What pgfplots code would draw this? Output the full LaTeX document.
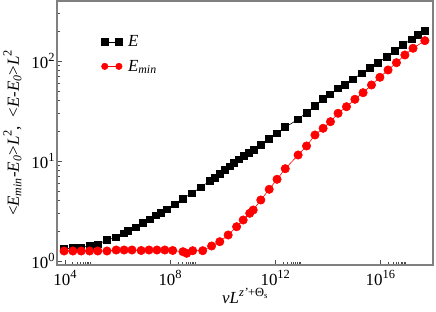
\documentclass[border=0pt]{standalone}
\usepackage{fontspec}
\setmainfont{Liberation Serif}
\usepackage{pgfplots}
\pgfplotsset{compat=1.18}
\newcommand{\ex}[1]{\raisebox{0.42em}{\fontsize{12.5}{12.5}\selectfont #1}}
\begin{document}
\begin{tikzpicture}
\begin{axis}[
  name=ax,
  scale only axis, width=376bp, height=264bp,
  xmode=log, ymode=log, log basis x=10, log basis y=10,
  xmin=5.0e3, xmax=1e18, ymin=0.912, ymax=398,
  axis line style={gray, line width=1.2pt},
  tick style={black!70, line width=0.7pt},
  tick align=inside, xtick pos=bottom, ytick pos=left,
  major tick length=5pt, minor tick length=3pt,
  xtick={1e4,1e8,1e12,1e16},
  xticklabels={{10\ex{4}},{10\ex{8}},{10\ex{12}},{10\ex{16}}},
  minor xtick={2e4,3e4,4e4,5e4,6e4,7e4,8e4,9e4,2e8,3e8,4e8,5e8,6e8,7e8,8e8,9e8,2e12,3e12,4e12,5e12,6e12,7e12,8e12,9e12,2e16,3e16,4e16,5e16,6e16,7e16,8e16,9e16},
  ytick={1,10,100},
  yticklabels={{10\ex{0}},{10\ex{1}},{10\ex{2}}},
  minor ytick={2,3,4,5,6,7,8,9,20,30,40,50,60,70,80,90,200,300},
  ticklabel style={font=\fontsize{17}{17}\selectfont},
  xticklabel style={yshift=-2pt},
  yticklabel style={xshift=1pt},
  label style={font=\fontsize{17}{17}\selectfont},
  xlabel={\textit{vL}\ex{\textit{z'}+Θ\textsubscript{s}}},
  xlabel style={yshift=5pt},
  ylabel={\textless\textit{E}\textsubscript{\textit{min}}-\textit{E}\textsubscript{\textit{0}}\textgreater\textit{L}\ex{2},\ \ \textless\textit{E}-\textit{E}\textsubscript{\textit{0}}\textgreater\textit{L}\ex{2}},
  ylabel style={yshift=3pt},
  legend style={at={(0.11,0.885)}, anchor=north west, draw=none, fill=none,
    font=\fontsize{17}{17}\selectfont, row sep=8pt},
  legend cell align=left,
  legend image code/.code={\draw[#1, mark size=3.2pt] plot coordinates {(0cm,0cm) (0.5cm,0cm)};},
]
\addplot[black, line width=0.6pt, mark=square*, mark size=3.5pt] table {
x y
9.3e3 1.318
2.0e4 1.349
4.17e4 1.371
8.71e4 1.413
1.78e5 1.469
3.98e5 1.622
8.91e5 1.726
1.78e6 1.892
2.51e6 1.995
4.90e6 2.173
9.33e6 2.415
1.74e7 2.612
2.95e7 2.864
4.57e7 3.041
7.59e7 3.289
1.45e8 3.690
3.09e8 4.217
6.76e8 4.753
1.45e9 5.458
3.24e9 6.310
5.01e9 6.808
7.76e9 7.413
1.20e10 8.128
1.86e10 8.851
2.75e10 9.616
4.27e10 10.40
6.46e10 11.22
1.02e11 12.11
1.55e11 12.88
2.88e11 14.45
5.89e11 16.60
1.17e12 18.92
2.40e12 21.73
7.41e12 26.12
1.55e13 30.55
3.24e13 35.48
6.61e13 41.40
1.20e14 46.45
2.45e14 53.33
4.47e14 57.54
9.12e14 65.61
1.91e15 75.34
3.98e15 84.53
8.13e15 96.16
1.70e16 110.4
3.55e16 125.9
7.24e16 144.5
1.51e17 164.8
2.69e17 182.0
4.90e17 200.9
};
\addlegendentry{\hspace{4pt}\textit{E}}
\addplot[red, line width=0.6pt, mark=*, mark size=4.2pt, mark options={fill=red, draw=red}] table {
x y
9.3e3 1.259
2.0e4 1.259
4.17e4 1.259
8.71e4 1.259
1.78e5 1.259
3.98e5 1.259
8.91e5 1.288
1.78e6 1.288
3.55e6 1.288
7.94e6 1.274
1.58e7 1.288
3.16e7 1.288
6.31e7 1.288
1.26e8 1.274
3.09e8 1.239
4.27e8 1.194
7.24e8 1.268
1.74e9 1.268
3.80e9 1.413
7.76e9 1.560
1.62e10 1.820
3.39e10 2.203
6.03e10 2.570
1.07e11 3.000
1.45e11 3.236
2.82e11 4.074
5.89e11 5.212
1.17e12 6.561
2.40e12 8.375
7.41e12 11.48
1.55e13 14.13
3.24e13 18.20
6.61e13 21.23
1.26e14 24.72
2.45e14 29.99
5.13e14 34.91
1.07e15 41.40
2.19e15 48.19
4.57e15 57.54
9.55e15 68.71
1.95e16 81.28
4.07e16 96.16
8.51e16 114.8
1.74e17 134.0
4.90e17 159.6
};
\addlegendentry{\hspace{4pt}\textit{E}\textsubscript{\textit{min}}}
\end{axis}
\pgfresetboundingbox
\path ([xshift=-57bp,yshift=-47bp]ax.south west) rectangle ([xshift=3bp,yshift=1bp]ax.north east);
\end{tikzpicture}
\end{document}
